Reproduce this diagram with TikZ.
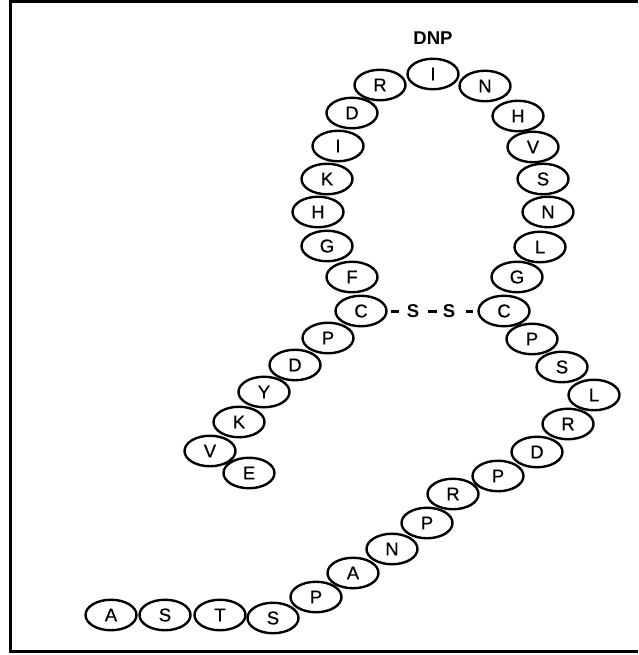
\documentclass[tikz,border=0pt]{standalone}
\usepackage{fontspec}
\setmainfont{Liberation Sans}
\newfontfamily\beadfont{Liberation Sans}[FakeBold=0.6]
\usetikzlibrary{shapes.geometric}
\tikzset{
  bead/.style={ellipse, draw, line width=2.4pt, minimum width=51pt, minimum height=30.5pt, inner sep=0pt, font=\beadfont\fontsize{18.5}{20}\selectfont},
  sulf/.style={inner sep=0pt, font=\fontsize{18.5}{20}\selectfont\bfseries},
  bond/.style={line width=3pt},
  frame/.style={line width=3pt}
}
\begin{document}
\begin{tikzpicture}[x=1pt,y=-1pt]
\useasboundingbox (0,0) rectangle (638,655);
\coordinate (f1) at (10.5,0);
\coordinate (f2) at (10.5,651.5);
\coordinate (f3) at (638,651.5);
\coordinate (f4) at (10.5,1.5);
\coordinate (f5) at (638,1.5);
\draw[frame] (f1) -- (f2) -- (f3);
\draw[frame] (f4) -- (f5);
\node[sulf] (dnp) at (433,38) {DNP};
% top
\node[bead] (i1) at (433,74) {I};
% left arm
\node[bead] (r1) at (380,85) {R};
\node[bead] (d1) at (352,113) {D};
\node[bead] (i2) at (338,146) {I};
\node[bead] (k1) at (327,179) {K};
\node[bead] (h1) at (318,212) {H};
\node[bead] (g1) at (327,246) {G};
\node[bead] (f1b) at (352,277) {F};
\node[bead] (c1) at (361,311) {C};
\node[bead] (p1) at (328,338) {P};
\node[bead] (d2) at (295,365) {D};
\node[bead] (y1) at (264,392) {Y};
\node[bead] (k2) at (239,422) {K};
\node[bead] (v1) at (210,451) {V};
\node[bead] (e1) at (249,473) {E};
% right arm
\node[bead] (n1) at (485,86) {N};
\node[bead] (h2) at (518,116) {H};
\node[bead] (v2) at (533,147) {V};
\node[bead] (s1) at (543,179) {S};
\node[bead] (n2) at (548,212) {N};
\node[bead] (l1) at (540,247) {L};
\node[bead] (g2) at (517,277) {G};
\node[bead] (c2) at (504,311) {C};
\node[bead] (p2) at (532,339) {P};
\node[bead] (s2) at (562,367) {S};
\node[bead] (l2) at (594,395) {L};
\node[bead] (r2) at (568,424) {R};
\node[bead] (d3) at (537,452) {D};
\node[bead] (p3) at (498,476) {P};
\node[bead] (r3) at (453,494) {R};
\node[bead] (p4) at (427,523) {P};
\node[bead] (n3) at (392,549) {N};
\node[bead] (a1) at (353,573) {A};
\node[bead] (p5) at (316,597) {P};
\node[bead] (s3) at (273,618) {S};
\node[bead] (t1) at (220,615) {T};
\node[bead] (s4) at (165,615) {S};
\node[bead] (a2) at (111,615) {A};
% disulfide bridge
\node[sulf] (sa) at (413,311) {S};
\node[sulf] (sb) at (449,311) {S};
\draw[bond, shorten <=3pt, shorten >=8pt] (c1.east) -- (sa.west);
\draw[bond, shorten <=9pt, shorten >=6pt] (sa.east) -- (sb.west);
\draw[bond, shorten <=11pt, shorten >=4pt] (sb.east) -- (c2.west);
\end{tikzpicture}
\end{document}
